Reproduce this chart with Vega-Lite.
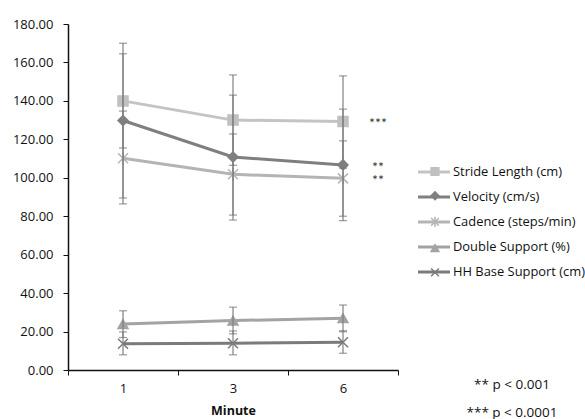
{
  "$schema": "https://vega.github.io/schema/vega-lite/v6.json",
  "autosize": "none",
  "width": 330,
  "height": 346,
  "padding": {"left": 68, "top": 24, "right": 187, "bottom": 49},
  "background": "white",
  "config": {
    "view": {"stroke": null},
    "font": "Open Sans"
  },
  "title": {
    "text": ["** p < 0.001", "*** p < 0.0001"],
    "orient": "bottom",
    "anchor": "end",
    "frame": "group",
    "align": "center",
    "baseline": "middle",
    "dx": 114,
    "dy": -36,
    "font": "Open Sans",
    "fontSize": 13.5,
    "fontWeight": "normal",
    "color": "#111",
    "lineHeight": 28
  },
  "data": {
    "values": [
      {"minute": 1, "series": "Stride Length (cm)", "mean": 140.0, "lo": 115.5, "hi": 164.5, "sig": ""},
      {"minute": 3, "series": "Stride Length (cm)", "mean": 130.0, "lo": 106.5, "hi": 153.5, "sig": ""},
      {"minute": 6, "series": "Stride Length (cm)", "mean": 129.3, "lo": 105.0, "hi": 153.0, "sig": "***"},
      {"minute": 1, "series": "Velocity (cm/s)", "mean": 129.8, "lo": 89.5, "hi": 170.0, "sig": ""},
      {"minute": 3, "series": "Velocity (cm/s)", "mean": 110.8, "lo": 78.0, "hi": 143.0, "sig": ""},
      {"minute": 6, "series": "Velocity (cm/s)", "mean": 106.7, "lo": 77.7, "hi": 135.7, "sig": "**"},
      {"minute": 1, "series": "Cadence (steps/min)", "mean": 110.2, "lo": 86.4, "hi": 134.7, "sig": ""},
      {"minute": 3, "series": "Cadence (steps/min)", "mean": 101.8, "lo": 80.6, "hi": 122.8, "sig": ""},
      {"minute": 6, "series": "Cadence (steps/min)", "mean": 99.7, "lo": 80.0, "hi": 119.2, "sig": "**"},
      {"minute": 1, "series": "Double Support (%)", "mean": 23.9, "lo": 16.9, "hi": 30.8, "sig": ""},
      {"minute": 3, "series": "Double Support (%)", "mean": 25.7, "lo": 18.8, "hi": 32.7, "sig": ""},
      {"minute": 6, "series": "Double Support (%)", "mean": 26.9, "lo": 19.9, "hi": 33.8, "sig": ""},
      {"minute": 1, "series": "HH Base Support (cm)", "mean": 13.7, "lo": 7.9, "hi": 19.8, "sig": ""},
      {"minute": 3, "series": "HH Base Support (cm)", "mean": 13.9, "lo": 7.9, "hi": 20.3, "sig": ""},
      {"minute": 6, "series": "HH Base Support (cm)", "mean": 14.4, "lo": 8.7, "hi": 20.4, "sig": ""}
    ]
  },
  "encoding": {
    "x": {
      "field": "minute",
      "type": "ordinal",
      "scale": {"type": "band", "paddingInner": 0, "paddingOuter": 0},
      "axis": {"title": "Minute", "labelAngle": 0, "tickBand": "extent", "tickSize": 5, "tickColor": "#111", "domainColor": "#111", "domainWidth": 1.5, "labelPadding": 7, "labelFont": "Open Sans", "labelFontSize": 13, "labelColor": "#111", "titleFont": "Open Sans", "titleFontWeight": "bold", "titleFontSize": 12.5, "titleColor": "#111", "titlePadding": 9, "grid": false}
    }
  },
  "layer": [
    {
      "mark": {"type": "line", "strokeWidth": 3},
      "encoding": {
        "y": {
          "field": "mean",
          "type": "quantitative",
          "scale": {"domain": [0, 180], "nice": false},
          "axis": {"title": null, "values": [0, 20, 40, 60, 80, 100, 120, 140, 160, 180], "format": ".2f", "tickSize": 5, "tickColor": "#111", "domainColor": "#111", "domainWidth": 1.5, "labelPadding": 10, "labelOverlap": false, "labelBound": false, "labelFont": "Open Sans", "labelFontSize": 13, "labelColor": "#111", "grid": false}
        },
        "color": {
          "field": "series",
          "type": "nominal",
          "sort": ["Stride Length (cm)", "Velocity (cm/s)", "Cadence (steps/min)", "Double Support (%)", "HH Base Support (cm)"],
          "scale": {
            "range": ["#c4c4c4", "#7f7f7f", "#b4b4b4", "#a3a3a3", "#7b7b7b"]
          },
          "legend": {
            "title": null,
            "orient": "none",
            "legendX": 348.5,
            "legendY": 130.5,
            "symbolType": "stroke",
            "symbolSize": 1024,
            "symbolStrokeWidth": 3,
            "labelFont": "Open Sans",
            "labelFontSize": 12.9,
            "labelColor": "#111",
            "labelOffset": 1.5,
            "rowPadding": -10
          }
        }
      }
    },
    {
      "mark": {"type": "point", "filled": true, "size": 100, "strokeWidth": 1.5, "opacity": 1},
      "encoding": {
        "y": {"field": "mean", "type": "quantitative", "scale": {"domain": [0, 180], "nice": false},
          "axis": {"title": null, "values": [0, 20, 40, 60, 80, 100, 120, 140, 160, 180], "format": ".2f", "tickSize": 5, "tickColor": "#111", "domainColor": "#111", "domainWidth": 1.5, "labelPadding": 10, "labelOverlap": false, "labelBound": false, "labelFont": "Open Sans", "labelFontSize": 13, "labelColor": "#111", "grid": false}},
        "shape": {
          "field": "series",
          "type": "nominal",
          "scale": {
            "domain": ["Stride Length (cm)", "Velocity (cm/s)", "Cadence (steps/min)", "Double Support (%)", "HH Base Support (cm)"],
            "range": ["square", "diamond", "M-1,-1L1,1M-1,1L1,-1M0,-1.3L0,1.3", "triangle-up", "M-1,-1L1,1M-1,1L1,-1"]
          },
          "legend": {"title": null, "orient": "none", "legendX": 361, "legendY": 141.5, "symbolSize": 60, "symbolStrokeWidth": 1.5, "labelExpr": "''", "labelFontSize": 12, "rowPadding": 10.2}
        },
        "fill": {
          "field": "series",
          "type": "nominal",
          "scale": {
            "domain": ["Stride Length (cm)", "Velocity (cm/s)", "Cadence (steps/min)", "Double Support (%)", "HH Base Support (cm)"],
            "range": ["#c0c0c0", "#7f7f7f", "#b4b4b4", "#a3a3a3", "#7b7b7b"]
          },
          "legend": {"title": null, "orient": "none", "legendX": 361, "legendY": 141.5, "symbolSize": 60, "symbolStrokeWidth": 1.5, "labelExpr": "''", "labelFontSize": 12, "rowPadding": 10.2}
        },
        "stroke": {
          "field": "series",
          "type": "nominal",
          "scale": {
            "domain": ["Stride Length (cm)", "Velocity (cm/s)", "Cadence (steps/min)", "Double Support (%)", "HH Base Support (cm)"],
            "range": ["#c0c0c0", "#7f7f7f", "#b4b4b4", "#a3a3a3", "#7b7b7b"]
          },
          "legend": {"title": null, "orient": "none", "legendX": 361, "legendY": 141.5, "symbolSize": 60, "symbolStrokeWidth": 1.5, "labelExpr": "''", "labelFontSize": 12, "rowPadding": 10.2}
        }
      }
    },
    {
      "mark": {"type": "rule", "color": "#808080", "strokeWidth": 1.2},
      "encoding": {
        "y": {"field": "lo", "type": "quantitative", "scale": {"domain": [0, 180], "nice": false},
          "axis": {"title": null, "values": [0, 20, 40, 60, 80, 100, 120, 140, 160, 180], "format": ".2f", "tickSize": 5, "tickColor": "#111", "domainColor": "#111", "domainWidth": 1.5, "labelPadding": 10, "labelOverlap": false, "labelBound": false, "labelFont": "Open Sans", "labelFontSize": 13, "labelColor": "#111", "grid": false}},
        "y2": {"field": "hi"}
      }
    },
    {
      "mark": {"type": "tick", "color": "#707070", "size": 8, "thickness": 1.2},
      "encoding": {"y": {"field": "lo", "type": "quantitative", "scale": {"domain": [0, 180], "nice": false},
          "axis": {"title": null, "values": [0, 20, 40, 60, 80, 100, 120, 140, 160, 180], "format": ".2f", "tickSize": 5, "tickColor": "#111", "domainColor": "#111", "domainWidth": 1.5, "labelPadding": 10, "labelOverlap": false, "labelBound": false, "labelFont": "Open Sans", "labelFontSize": 13, "labelColor": "#111", "grid": false}}}
    },
    {
      "mark": {"type": "tick", "color": "#707070", "size": 8, "thickness": 1.2},
      "encoding": {"y": {"field": "hi", "type": "quantitative", "scale": {"domain": [0, 180], "nice": false},
          "axis": {"title": null, "values": [0, 20, 40, 60, 80, 100, 120, 140, 160, 180], "format": ".2f", "tickSize": 5, "tickColor": "#111", "domainColor": "#111", "domainWidth": 1.5, "labelPadding": 10, "labelOverlap": false, "labelBound": false, "labelFont": "Open Sans", "labelFontSize": 13, "labelColor": "#111", "grid": false}}}
    },
    {
      "transform": [{"filter": "datum.sig != ''"}],
      "mark": {"type": "text", "dx": 35, "dy": 3, "align": "center", "baseline": "middle", "font": "Lato", "fontSize": 14, "color": "#333"},
      "encoding": {
        "y": {"field": "mean", "type": "quantitative", "scale": {"domain": [0, 180], "nice": false},
          "axis": {"title": null, "values": [0, 20, 40, 60, 80, 100, 120, 140, 160, 180], "format": ".2f", "tickSize": 5, "tickColor": "#111", "domainColor": "#111", "domainWidth": 1.5, "labelPadding": 10, "labelOverlap": false, "labelBound": false, "labelFont": "Open Sans", "labelFontSize": 13, "labelColor": "#111", "grid": false}},
        "text": {"field": "sig"}
      }
    }
  ]
}
